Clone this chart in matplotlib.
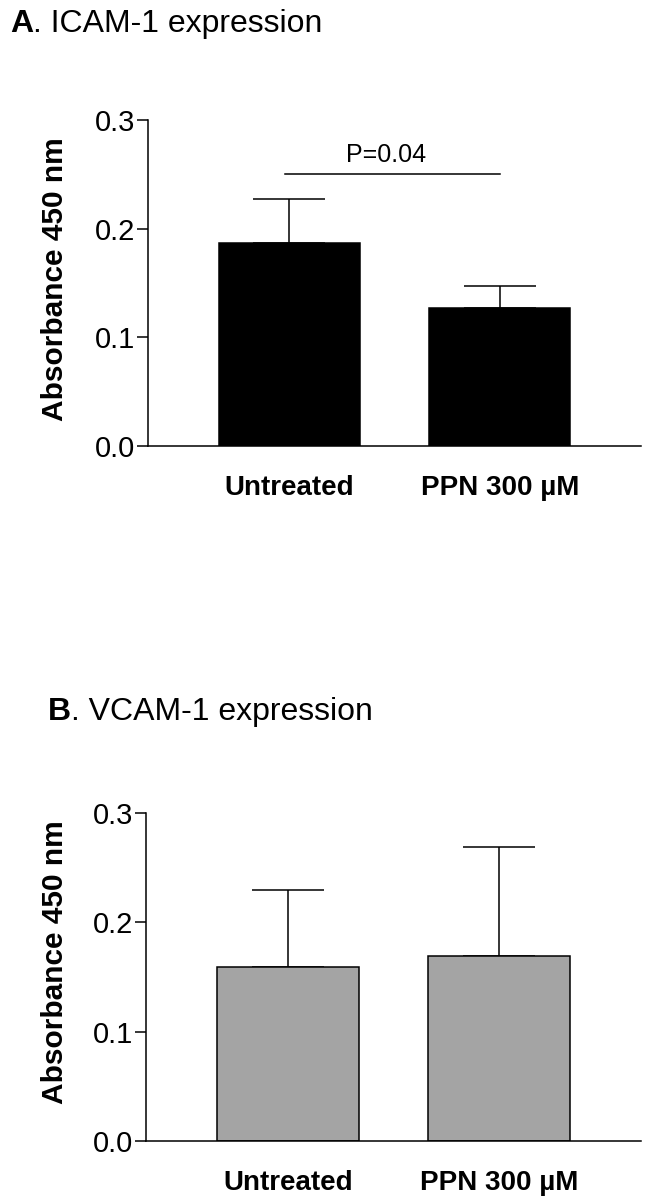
import matplotlib
matplotlib.use("Agg")
import matplotlib.pyplot as plt

plt.rcParams["font.family"] = ["Liberation Sans", "DejaVu Sans"]

groups = ["Untreated", "PPN 300 \u00b5M"]
icam_mean = [0.187, 0.127]
icam_err = [0.040, 0.020]
vcam_mean = [0.159, 0.169]
vcam_err = [0.071, 0.100]
p_text = "P=0.04"
p_level = 0.250
yticks = [0.0, 0.1, 0.2, 0.3]

W, H = 645, 1199
fig = plt.figure(figsize=(W / 100, H / 100), dpi=100)


def px_axes(left, right, top, bottom):
    return fig.add_axes([left / W, 1 - bottom / H, (right - left) / W, (bottom - top) / H])


def panel(ax, means, errs, color):
    x = list(range(len(groups)))
    ax.bar(x, means, width=0.67, color=color, edgecolor="black", linewidth=1.1, zorder=2)
    ax.errorbar(x, means, yerr=[[0] * len(errs), errs], fmt="none", ecolor="black",
                elinewidth=1.1, capsize=26, capthick=1.1, zorder=1)
    ax.set_xlim(-0.67, 1.67)
    ax.set_ylim(0, 0.3)
    ax.set_yticks(yticks)
    ax.set_yticklabels([f"{v:.1f}" for v in yticks], fontsize=21)
    ax.set_xticks(x)
    ax.set_xticklabels(groups, fontsize=20, fontweight="bold")
    ax.tick_params(axis="x", length=0, pad=21)
    ax.tick_params(axis="y", length=8, width=1.1, pad=1)
    for s in ["top", "right"]:
        ax.spines[s].set_visible(False)
    for s in ["left", "bottom"]:
        ax.spines[s].set_linewidth(1.1)
    ax.patch.set_alpha(0)


def title(x, y, letter, rest):
    t = fig.text(x / W, 1 - y / H, letter, fontsize=23, fontweight="bold", va="baseline")
    fig.canvas.draw()
    bb = t.get_window_extent()
    fig.text(bb.x1 / W, 1 - y / H, rest, fontsize=23, va="baseline")


ax1 = px_axes(148, 641, 120, 446)
panel(ax1, icam_mean, icam_err, "black")
ax1.plot([-0.02, 1.0], [p_level, p_level], color="black", lw=1.1)
ax1.text(0.46, p_level + 0.007, p_text, ha="center", va="bottom", fontsize=18)

ax2 = px_axes(146, 641, 813, 1141)
panel(ax2, vcam_mean, vcam_err, "#a4a4a4")

fig.text(55 / W, 1 - 279 / H, "Absorbance 450 nm", rotation=90, ha="center", va="center",
         fontsize=21.5, fontweight="bold")
fig.text(55 / W, 1 - 962 / H, "Absorbance 450 nm", rotation=90, ha="center", va="center",
         fontsize=21.5, fontweight="bold")

title(10, 32, "A", ". ICAM-1 expression")
title(48, 720, "B", ". VCAM-1 expression")

fig.savefig("out.png", dpi=100)
